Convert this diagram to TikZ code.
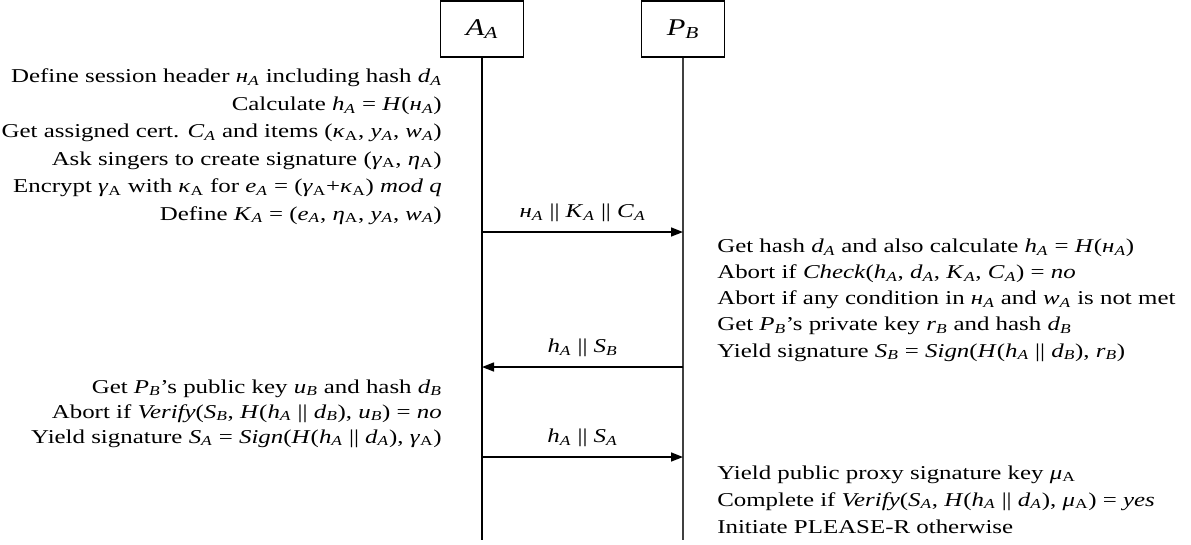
\documentclass[tikz,border=0pt]{standalone}
\usepackage{fontspec}
\setmainfont{Liberation Serif}[FakeStretch=1.27]
\usetikzlibrary{arrows.meta,positioning}

\newcommand{\vs}[2]{\textit{#1}\textsubscript{\textit{#2}}}
\newcommand{\vg}[2]{\textit{#1}\textsubscript{#2}}

\tikzset{
	actor/.style={draw, line width=1pt, minimum width=62.25pt, minimum height=42pt, font=\fontsize{18}{20}\selectfont},
	lifeline/.style={line width=0.8pt, draw=black!75},
	msg/.style={line width=1.1pt, -{Triangle[length=9pt,width=6.75pt]}},
	lbl/.style={midway, anchor=base, yshift=10.9pt, inner sep=0pt, font=\fontsize{14.7}{19.9}\selectfont},
	note/.style={inner sep=0pt, font=\fontsize{14.7}{#1}\selectfont},
	note/.default=19.9pt
}

\begin{document}
\begin{tikzpicture}[x=0.75pt, y=-0.75pt]
	\useasboundingbox (0,0) rectangle (1191,544);
	\node[actor] (AA) at (482,29) {\vs{A}{A}};
	\node[actor] (PB) at (683,29) {\vs{P}{B}};
	\coordinate (AAend) at (482,540);
	\coordinate (PBend) at (683,540);
	\draw[lifeline, draw=black] (AA) -- (AAend);
	\draw[lifeline] (PB) -- (PBend);

	\coordinate (A1) at (AA |- 0,232);
	\coordinate (P1) at (PB |- 0,232);
	\coordinate (A2) at (AA |- 0,367);
	\coordinate (P2) at (PB |- 0,367);
	\coordinate (A3) at (AA |- 0,457);
	\coordinate (P3) at (PB |- 0,457);

	\draw[msg] (A1) -- node[lbl] {\vs{н}{A} || \vs{K}{A} || \vs{C}{A}} (P1);
	\draw[msg] (P2) -- node[lbl] {\vs{h}{A} || \vs{S}{B}} (A2);
	\draw[msg] (A3) -- node[lbl] {\vs{h}{A} || \vs{S}{A}} (P3);

	\node[note=20.6pt, anchor=base east, align=right] (defA) at (442,220) {
		Define session header \vs{н}{A} including hash \vs{d}{A}\\
		Calculate \vs{h}{A} = \textit{H}(\vs{н}{A})\\
		Get assigned cert. \vs{C}{A} and items (\vg{κ}{A}, \vs{y}{A}, \vs{w}{A})\\
		Ask singers to create signature (\vg{γ}{A}, \vg{η}{A})\\
		Encrypt \vg{γ}{A} with \vg{κ}{A} for \vs{e}{A} = (\vg{γ}{A}+\vg{κ}{A}) \textit{mod q}\\
		Define \vs{K}{A} = (\vs{e}{A}, \vg{η}{A}, \vs{y}{A}, \vs{w}{A})};
	\node[note=19.6pt, anchor=base west, align=left] (chkB) at (717,357) {
		Get hash \vs{d}{A} and also calculate \vs{h}{A} = \textit{H}(\vs{н}{A})\\
		Abort if \textit{Check}(\vs{h}{A}, \vs{d}{A}, \vs{K}{A}, \vs{C}{A}) = \textit{no}\\
		Abort if any condition in \vs{н}{A} and \vs{w}{A} is not met\\
		Get \vs{P}{B}’s private key \vs{r}{B} and hash \vs{d}{B}\\
		Yield signature \vs{S}{B} = \textit{Sign}(\textit{H}(\vs{h}{A} || \vs{d}{B}), \vs{r}{B})};
	\node[note=18.75pt, anchor=base east, align=right] (vrfA) at (442,443) {
		Get \vs{P}{B}’s public key \vs{u}{B} and hash \vs{d}{B}\\
		Abort if \textit{Verify}(\vs{S}{B}, \textit{H}(\vs{h}{A} || \vs{d}{B}), \vs{u}{B}) = \textit{no}\\
		Yield signature \vs{S}{A} = \textit{Sign}(\textit{H}(\vs{h}{A} || \vs{d}{A}), \vg{γ}{A})};
	\node[note=20.25pt, anchor=base west, align=left] (endB) at (717,533) {
		Yield public proxy signature key \vg{μ}{A}\\
		Complete if \textit{Verify}(\vs{S}{A}, \textit{H}(\vs{h}{A} || \vs{d}{A}), \vg{μ}{A}) = \textit{yes}\\
		Initiate PLEASE-R otherwise};
\end{tikzpicture}
\end{document}
